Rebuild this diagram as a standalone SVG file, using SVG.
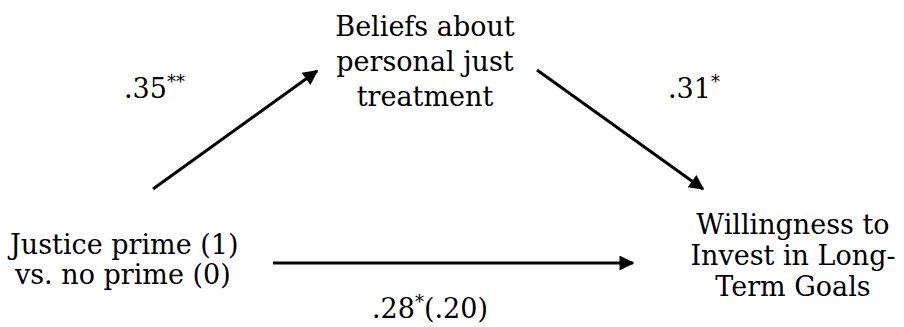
<svg xmlns="http://www.w3.org/2000/svg" width="904" height="327" viewBox="0 0 904 327">
<style>
text{font-family:"DejaVu Serif","Liberation Serif",serif;font-size:27px;fill:#000}
.c{text-anchor:middle}
.sup{font-size:18px}
.edge{stroke:#000;stroke-width:3;fill:none}
</style>
<defs>
<marker id="ah" viewBox="0 0 10 10" refX="9" refY="5" markerWidth="5.5" markerHeight="5" markerUnits="strokeWidth" orient="auto">
<path d="M0,0 L10,5 L0,10 z" fill="#000"/>
</marker>
</defs>
<rect width="904" height="327" fill="#fff"/>
<g id="connectors">
<line class="edge" x1="153" y1="189" x2="317" y2="71" marker-end="url(#ah)"/>
<line class="edge" x1="537" y1="70" x2="703" y2="189" marker-end="url(#ah)"/>
<line class="edge" x1="273" y1="263" x2="633" y2="263" marker-end="url(#ah)"/>
<text x="124" y="98">.35<tspan class="sup" dy="-10">**</tspan></text>
<text x="668" y="98">.31<tspan class="sup" dy="-10">*</tspan></text>
<text x="372" y="318">.28<tspan class="sup" dy="-10">*</tspan><tspan dy="10">(.20)</tspan></text>
</g>
<g id="mediator">
<text class="c" x="425" y="36">Beliefs about</text>
<text class="c" x="425" y="71">personal just</text>
<text class="c" x="425" y="106">treatment</text>
</g>
<g id="predictor">
<text x="10" y="254">Justice prime (1)</text>
<text x="15" y="284">vs. no prime (0)</text>
</g>
<g id="outcome">
<text class="c" x="793" y="234">Willingness to</text>
<text class="c" x="793" y="265">Invest in Long-</text>
<text class="c" x="793" y="296">Term Goals</text>
</g>
</svg>
